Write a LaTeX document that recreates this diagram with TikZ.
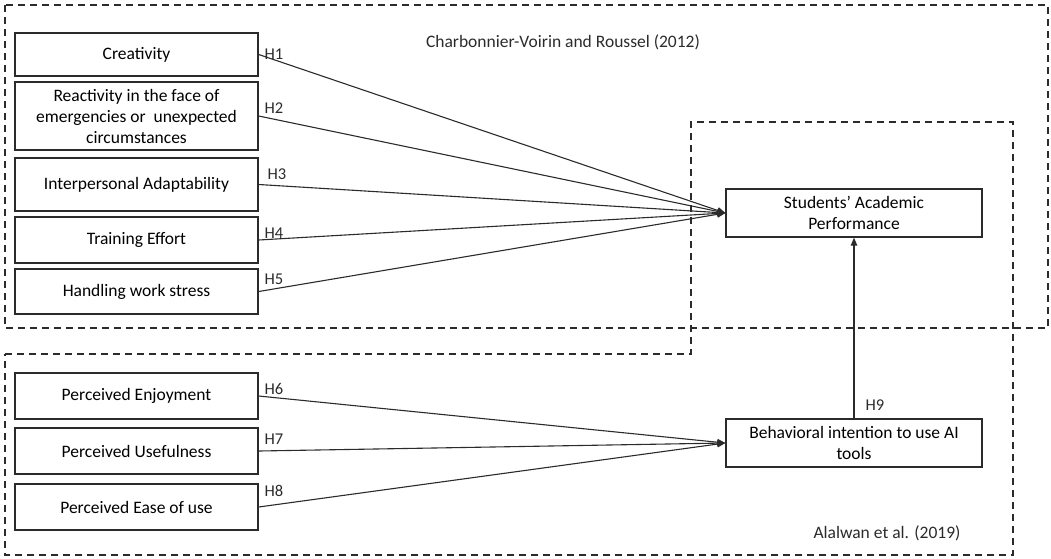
\documentclass[tikz,border=0pt]{standalone}
\usepackage{fontspec}
\setmainfont{Carlito}
\usetikzlibrary{arrows.meta}
\definecolor{ink}{HTML}{2B2B2B}
\tikzset{
  varbox/.style={draw=ink, line width=1.4pt, rectangle, minimum width=243pt, inner sep=0pt, align=center, font=\fontsize{17.5}{21}\selectfont},
  outbox/.style={draw=ink, line width=1.4pt, rectangle, minimum width=256pt, minimum height=48pt, inner sep=0pt, align=center, font=\fontsize{17.5}{20.5}\selectfont},
  frame/.style={draw=ink, line width=1.3pt, dash pattern=on 7pt off 5pt},
  link/.style={draw=ink, line width=1.1pt, -{Triangle[length=8pt,width=6.5pt]}},
  hlabel/.style={font=\fontsize{16.5}{18}\selectfont, inner sep=0pt, text=ink},
  cite/.style={font=\fontsize{17.5}{20}\selectfont, inner sep=0pt, text=ink}
}
\begin{document}
\begin{tikzpicture}[x=1pt,y=-1pt]
\useasboundingbox (0,0) rectangle (1051,558);
% dashed frames
\draw[frame] (5,5) rectangle (1048,328);
\draw[frame] (5,354) -- (691,354) -- (691,122) -- (1013,122) -- (1013,555) -- (5,555) -- cycle;
% left boxes
\node[varbox, minimum height=43pt] (cre) at (136.5,54.5) {Creativity};
\node[varbox, minimum height=68pt] (rea) at (136.5,116) {Reactivity in the face of\\emergencies or \ unexpected\\circumstances};
\node[varbox, minimum height=53pt] (ipa) at (136.5,184.5) {Interpersonal Adaptability};
\node[varbox, minimum height=46pt] (tre) at (136.5,240) {Training Effort};
\node[varbox, minimum height=45pt] (hws) at (136.5,291.5) {Handling work stress};
\node[varbox, minimum height=46pt] (pen) at (136.5,396) {Perceived Enjoyment};
\node[varbox, minimum height=46pt] (pus) at (136.5,451) {Perceived Usefulness};
\node[varbox, minimum height=46pt] (peu) at (136.5,507) {Perceived Ease of use};
% right boxes
\node[outbox] (sap) at (854,213) {Students' Academic\\Performance};
\node[outbox] (bia) at (854,443) {Behavioral intention to use AI\\tools};
% connectors
\draw[link] (cre.east) -- (sap.west);
\draw[link] (rea.east) -- (sap.west);
\draw[link] (ipa.east) -- (sap.west);
\draw[link] (tre.east) -- (sap.west);
\draw[link] (hws.east) -- (sap.west);
\draw[link] (pen.east) -- (bia.west);
\draw[link] (pus.east) -- (bia.west);
\draw[link] (peu.east) -- (bia.west);
\draw[link] (bia.north) -- (sap.south);
% labels
\node[hlabel] (h1) at (274,54) {H1};
\node[hlabel] (h2) at (274,108) {H2};
\node[hlabel] (h3) at (277,174) {H3};
\node[hlabel] (h4) at (274,233) {H4};
\node[hlabel] (h5) at (274,279) {H5};
\node[hlabel] (h6) at (274,389) {H6};
\node[hlabel] (h7) at (274,439) {H7};
\node[hlabel] (h8) at (274,491) {H8};
\node[hlabel] (h9) at (875,405) {H9};
\node[cite] (c1) at (563,42) {Charbonnier-Voirin and Roussel (2012)};
\node[cite] (c2) at (887,533) {Alalwan et al. (2019)};
\end{tikzpicture}
\end{document}
